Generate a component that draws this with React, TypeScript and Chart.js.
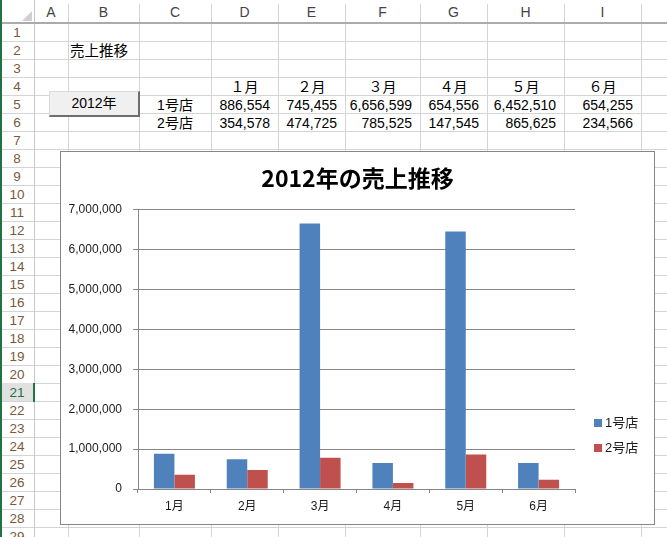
import React, { useEffect, useRef } from "react";
import { Chart, registerables } from "chart.js";

Chart.register(...registerables);

// ---- data ----
const months = ["1月", "2月", "3月", "4月", "5月", "6月"];
const monthHeaders = ["１月", "２月", "３月", "４月", "５月", "６月"];
const storeNames = ["1号店", "2号店"];
const store1 = [886554, 745455, 6656599, 654556, 6452510, 654255];
const store2 = [354578, 474725, 785525, 147545, 865625, 234566];
const seriesColors = ["#4F81BD", "#C0504D"];
const yMax = 7000000;
const yStep = 1000000;
const chartTitle = "2012年の売上推移";
const sheetTitle = "売上推移";
const yearLabel = "2012年";
const columnLetters = ["A", "B", "C", "D", "E", "F", "G", "H", "I"];

// ---- sheet layout ----
const colLines = [34, 68, 139, 211, 278, 345, 420, 487, 564, 641];
const ROW_TOP = 23;
const ROW_H = 18;
const N_ROWS = 29;
const ACTIVE_ROW = 21;

const cellFont = '"Liberation Sans", "Noto Sans CJK JP", sans-serif';
const chartFont = '"Liberation Sans", "Noto Sans CJK JP", sans-serif';

function ChartView() {
  const ref = useRef<HTMLCanvasElement>(null);
  useEffect(() => {
    if (!ref.current) return;
    const sideLegend = {
      id: "sideLegend",
      afterDraw(chart: any) {
        const ctx = chart.ctx;
        ctx.save();
        // title centred on the whole chart object
        ctx.fillStyle = "#000";
        ctx.font = 'bold 23px "Noto Sans CJK JP", sans-serif';
        ctx.textAlign = "center";
        ctx.textBaseline = "middle";
        ctx.fillText(chartTitle, chart.width / 2, 26);
        chart.data.datasets.forEach((ds: any, i: number) => {
          const x = chart.chartArea.right + 19;
          const y = 267 + i * 25;
          ctx.fillStyle = ds.backgroundColor;
          ctx.fillRect(x, y, 8, 8);
          ctx.fillStyle = "#1a1a1a";
          ctx.font = "13px " + chartFont;
          ctx.textBaseline = "middle";
          ctx.textAlign = "left";
          ctx.fillText(ds.label, x + 11, y + 4.5);
        });
        ctx.restore();
      },
    };
    const chart = new Chart(ref.current, {
      type: "bar",
      data: {
        labels: months,
        datasets: [
          { label: storeNames[0], data: store1, backgroundColor: seriesColors[0] },
          { label: storeNames[1], data: store2, backgroundColor: seriesColors[1] },
        ],
      },
      options: {
        animation: false,
        responsive: false,
        devicePixelRatio: 1,
        layout: { padding: { left: 0, right: 79, top: 57.7, bottom: 0 } },
        datasets: { bar: { barPercentage: 1, categoryPercentage: 0.563 } },
        plugins: {
          legend: { display: false },
          tooltip: { enabled: false },
          title: { display: false },
        },
        scales: {
          x: {
            grid: { display: true, drawOnChartArea: false, drawTicks: true, tickLength: 4, color: "#868686" },
            border: { display: true, color: "#868686" },
            ticks: { color: "#1a1a1a", font: { family: chartFont, size: 12 }, padding: 6, maxRotation: 0 },
            afterFit: (s: any) => { s.height = 35; },
          },
          y: {
            min: 0,
            max: yMax,
            ticks: {
              stepSize: yStep,
              color: "#1a1a1a",
              font: { family: chartFont, size: 12 },
              padding: 11,
              callback: (v: any) => Number(v).toLocaleString("en-US"),
            },
            grid: { color: "#868686", tickLength: 5 },
            border: { display: true, color: "#868686" },
            afterFit: (s: any) => { s.width = 77; },
          },
        },
      },
      plugins: [sideLegend],
    } as any);
    return () => chart.destroy();
  }, []);
  return <canvas ref={ref} width={593} height={372} style={{ width: 593, height: 372, display: "block" }} />;
}

function abs(style: React.CSSProperties): React.CSSProperties {
  return { position: "absolute", ...style };
}

export default function App() {
  const items: React.ReactNode[] = [];
  const rowTop = (r: number) => ROW_TOP + (r - 1) * ROW_H;

  // horizontal grid lines
  for (let r = 1; r <= N_ROWS; r++) {
    items.push(<div key={"h" + r} style={abs({ left: 0, top: rowTop(r) + ROW_H, width: 667, height: 1, background: "#d4d4d4" })} />);
  }
  // vertical grid lines
  colLines.forEach((x, i) => {
    items.push(<div key={"v" + i} style={abs({ left: x, top: i === 0 ? 0 : 4, width: 1, height: 537, background: i === 0 ? "#c8c8c8" : "#d4d4d4" })} />);
  });
  // header bottom line
  items.push(<div key="hdr" style={abs({ left: 0, top: ROW_TOP - 1, width: 667, height: 2, background: "#ababab" })} />);
  // corner triangle
  items.push(
    <div key="corner" style={abs({ left: 22, top: 11, width: 0, height: 0, borderLeft: "10px solid transparent", borderBottom: "10px solid #cfcfcf" })} />
  );
  // column letters
  columnLetters.forEach((c, i) => {
    const l = colLines[i];
    const r = colLines[i + 1];
    items.push(
      <div key={"c" + c} style={abs({ left: l, top: 3, width: r - l, height: 19, lineHeight: "19px", textAlign: "center", fontSize: 14, color: "#444", fontFamily: cellFont })}>
        {c}
      </div>
    );
  });
  // active row highlight
  items.push(<div key="act" style={abs({ left: 2, top: rowTop(ACTIVE_ROW), width: 32, height: ROW_H, background: "#e1e1e1" })} />);
  items.push(<div key="actb" style={abs({ left: 33, top: rowTop(ACTIVE_ROW), width: 2, height: ROW_H + 1, background: "#217346" })} />);
  // row numbers
  for (let r = 1; r <= N_ROWS; r++) {
    items.push(
      <div key={"r" + r} style={abs({ left: 0, top: rowTop(r) + 1, width: 34, height: ROW_H, lineHeight: ROW_H + "px", textAlign: "center", fontSize: 13.5, color: r === ACTIVE_ROW ? "#217346" : "#7a5a3c", fontFamily: cellFont })}>
        {r}
      </div>
    );
  }
  // green left edge
  items.push(<div key="green" style={abs({ left: 0, top: 0, width: 2, height: 537, background: "#217346" })} />);

  const cellText = (key: string, col: number, row: number, text: string, align: "left" | "center" | "right") => {
    const l = colLines[col];
    const r = colLines[col + 1];
    items.push(
      <div key={key} style={abs({ left: l + 2, top: rowTop(row) + 1, width: r - l - 10, paddingRight: align === "right" ? 6 : 0, height: ROW_H, lineHeight: ROW_H + "px", textAlign: align, fontSize: 14, color: "#000", fontFamily: cellFont, whiteSpace: "nowrap" })}>
        {text}
      </div>
    );
  };
  // B2 title
  items.push(
    <div key="b2" style={abs({ left: 70, top: rowTop(2) + 1, height: ROW_H, lineHeight: ROW_H + "px", fontSize: 14.5, color: "#000", fontFamily: cellFont, whiteSpace: "nowrap" })}>
      {sheetTitle}
    </div>
  );
  // month headers
  monthHeaders.forEach((m, i) => {
    const l = colLines[3 + i];
    const r = colLines[4 + i];
    items.push(
      <div key={"m" + i} style={abs({ left: l, top: rowTop(4) + 1, width: r - l, height: ROW_H, lineHeight: ROW_H + "px", textAlign: "center", fontSize: 14, color: "#000", fontFamily: cellFont })}>
        {m}
      </div>
    );
  });
  // store names
  storeNames.forEach((s, i) => {
    const l = colLines[2];
    const r = colLines[3];
    items.push(
      <div key={"s" + i} style={abs({ left: l, top: rowTop(5 + i) + 1, width: r - l, height: ROW_H, lineHeight: ROW_H + "px", textAlign: "center", fontSize: 14, color: "#000", fontFamily: cellFont })}>
        {s}
      </div>
    );
  });
  // values
  [store1, store2].forEach((arr, si) => {
    arr.forEach((v, i) => {
      cellText("val" + si + "_" + i, 3 + i, 5 + si, v.toLocaleString("en-US"), "right");
    });
  });

  return (
    <div style={abs({ left: 0, top: 0, width: 667, height: 537, overflow: "hidden", background: "#fff" })}>
      {items}
      {/* year button */}
      <div
        style={abs({
          left: 49,
          top: 91,
          width: 91,
          height: 26,
          boxSizing: "border-box",
          background: "#f0f0f0",
          borderStyle: "solid",
          borderWidth: "1px 2px 2px 1px",
          borderColor: "#dadada #6e6e6e #6e6e6e #dadada",
          textAlign: "center",
          lineHeight: "23px",
          fontSize: 14,
          fontFamily: cellFont,
          color: "#000",
        })}
      >
        {yearLabel}
      </div>
      {/* chart box */}
      <div style={abs({ left: 60, top: 151, width: 593, height: 372, border: "1px solid #878787", background: "#fff" })}>
        <ChartView />
      </div>
    </div>
  );
}
